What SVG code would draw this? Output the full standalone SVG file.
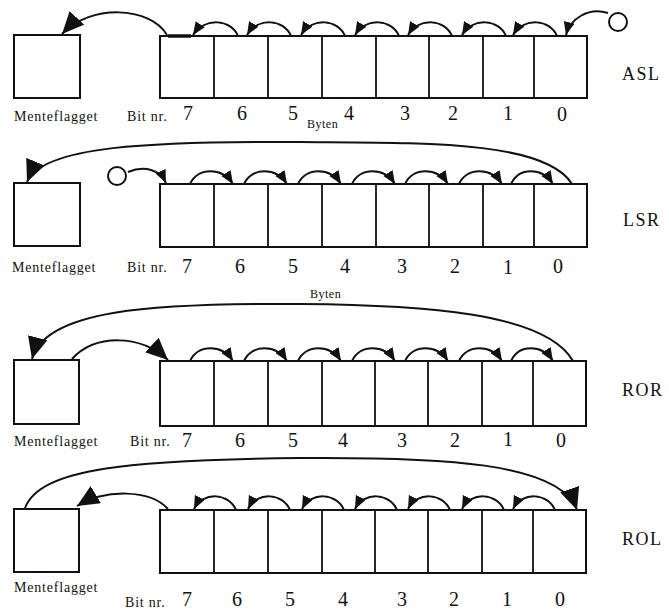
<svg xmlns="http://www.w3.org/2000/svg" width="669" height="609" viewBox="0 0 669 609">
<style>
.box{fill:none;stroke:#111;stroke-width:2}
.div{stroke:#111;stroke-width:1.8}
.c{fill:none;stroke:#111;stroke-width:2}
.cs{fill:none;stroke:#111;stroke-width:2;marker-end:url(#hs)}
.cl{fill:none;stroke:#111;stroke-width:2;marker-end:url(#hl)}
.lbl{font-family:"Liberation Serif",serif;font-size:14px;letter-spacing:0.8px;fill:#111}
.dig{font-family:"Liberation Serif",serif;font-size:20px;fill:#111;text-anchor:middle}
.op{font-family:"Liberation Serif",serif;font-size:18px;letter-spacing:1.5px;fill:#111}
.byt{font-family:"Liberation Serif",serif;font-size:12px;letter-spacing:0.5px;fill:#111}
</style>
<defs>
<marker id="hs" markerUnits="userSpaceOnUse" markerWidth="14" markerHeight="12" refX="13" refY="5.5" orient="auto"><path d="M0,0 L13,5.5 L0,11 z" fill="#111"/></marker>
<marker id="hl" markerUnits="userSpaceOnUse" markerWidth="24" markerHeight="20" refX="22" refY="10" orient="auto"><path d="M0,0 L22,10 L0,20 z" fill="#111"/></marker>
</defs>
<rect width="669" height="609" fill="#fff"/>

<!-- Row 1 ASL -->
<g id="asl-carry"><rect class="box" x="14" y="35" width="66" height="63"/><text class="lbl" x="14" y="121">Menteflagget</text></g>
<g id="asl-byte">
<rect class="box" x="160" y="36" width="427" height="62"/>
<path class="div" d="M214,36V98M268,36V98M322,36V98M376,36V98M429,36V98M483,36V98M534,36V98"/>
<line x1="168" y1="36" x2="191" y2="36" stroke="#111" stroke-width="3.5"/>
<text class="lbl" x="127" y="121">Bit nr.</text>
<text class="dig" x="188" y="120">7</text><text class="dig" x="242" y="120">6</text><text class="dig" x="293" y="120">5</text><text class="dig" x="349" y="120">4</text><text class="dig" x="405" y="120">3</text><text class="dig" x="453" y="120">2</text><text class="dig" x="508" y="120">1</text><text class="dig" x="562" y="121">0</text>
<text class="byt" x="307" y="128">Byten</text>
</g>
<g id="asl-zero"><circle class="c" cx="618" cy="22" r="9"/></g>
<g id="asl-label"><text class="op" x="622" y="80">ASL</text></g>

<!-- Row 2 LSR -->
<g id="lsr-carry"><rect class="box" x="14" y="183" width="66" height="63"/><text class="lbl" x="12" y="272">Menteflagget</text></g>
<g id="lsr-byte">
<rect class="box" x="160" y="184" width="427" height="63"/>
<path class="div" d="M214,184V247M268,184V247M322,184V247M376,184V247M429,184V247M483,184V247M534,184V247"/>
<text class="lbl" x="127" y="272">Bit nr.</text>
<text class="dig" x="187" y="273">7</text><text class="dig" x="240" y="273">6</text><text class="dig" x="293" y="273">5</text><text class="dig" x="345" y="273">4</text><text class="dig" x="402" y="273">3</text><text class="dig" x="455" y="273">2</text><text class="dig" x="508" y="274">1</text><text class="dig" x="558" y="273">0</text>
<text class="byt" x="310" y="298">Byten</text>
</g>
<g id="lsr-zero"><circle class="c" cx="117" cy="176" r="9"/></g>
<g id="lsr-label"><text class="op" x="623" y="226">LSR</text></g>

<!-- Row 3 ROR -->
<g id="ror-carry"><rect class="box" x="14" y="360" width="65" height="64"/><text class="lbl" x="14" y="446">Menteflagget</text></g>
<g id="ror-byte">
<rect class="box" x="160" y="361" width="426" height="65"/>
<path class="div" d="M214,361V426M268,361V426M322,361V426M375,361V426M428,361V426M482,361V426M533,361V426"/>
<text class="lbl" x="130" y="446">Bit nr.</text>
<text class="dig" x="187" y="447">7</text><text class="dig" x="240" y="447">6</text><text class="dig" x="293" y="447">5</text><text class="dig" x="343" y="447">4</text><text class="dig" x="402" y="447">3</text><text class="dig" x="455" y="447">2</text><text class="dig" x="508" y="446">1</text><text class="dig" x="561" y="447">0</text>
</g>
<g id="ror-label"><text class="op" x="622" y="396">ROR</text></g>

<!-- Row 4 ROL -->
<g id="rol-carry"><rect class="box" x="14" y="509" width="65" height="63"/><text class="lbl" x="14" y="592">Menteflagget</text></g>
<g id="rol-byte">
<rect class="box" x="160" y="510" width="426" height="63"/>
<path class="div" d="M214,510V573M268,510V573M322,510V573M375,510V573M428,510V573M482,510V573M533,510V573"/>
<text class="lbl" x="125" y="607">Bit nr.</text>
<text class="dig" x="187" y="606">7</text><text class="dig" x="237" y="606">6</text><text class="dig" x="290" y="606">5</text><text class="dig" x="343" y="606">4</text><text class="dig" x="402" y="606">3</text><text class="dig" x="454" y="606">2</text><text class="dig" x="507" y="606">1</text><text class="dig" x="560" y="606">0</text>
</g>
<g id="rol-label"><text class="op" x="622" y="545">ROL</text></g>

<g id="connectors">
<!-- ASL -->
<path class="cl" d="M167,35 C150,6 90,4 62,34"/>
<path class="cs" d="M608,13 C588,7 570,19 566,35"/>
<path class="cs" d="M238,36 C231,19 205,17 193,35"/>
<path class="cs" d="M291,36 C284,19 258,17 247,35"/>
<path class="cs" d="M345,36 C338,19 312,17 301,35"/>
<path class="cs" d="M399,36 C392,19 366,17 355,35"/>
<path class="cs" d="M452,36 C445,19 419,17 408,35"/>
<path class="cs" d="M506,36 C499,19 473,17 462,35"/>
<path class="cs" d="M557,36 C550,19 524,17 513,35"/>
<!-- LSR -->
<path class="cs" d="M128,172 C145,165 160,170 166,183"/>
<path class="cl" d="M572,184 C545,140 420,143 300,142 C150,141 42,146 27,182"/>
<path class="cs" d="M190,184 C198,167 222,167 233,184"/>
<path class="cs" d="M244,184 C252,167 276,167 287,184"/>
<path class="cs" d="M298,184 C306,167 330,167 341,184"/>
<path class="cs" d="M352,184 C360,167 384,167 395,184"/>
<path class="cs" d="M405,184 C413,167 437,167 448,184"/>
<path class="cs" d="M459,184 C467,167 491,167 502,184"/>
<path class="cs" d="M511,184 C519,167 542,167 553,184"/>
<!-- ROR -->
<path class="cl" d="M72,359 C95,334 140,334 168,360"/>
<path class="cl" d="M573,361 C545,312 420,305 300,304 C150,303 45,310 32,359"/>
<path class="cs" d="M190,361 C198,344 222,344 233,361"/>
<path class="cs" d="M244,361 C252,344 276,344 287,361"/>
<path class="cs" d="M298,361 C306,344 330,344 341,361"/>
<path class="cs" d="M352,361 C360,344 384,344 395,361"/>
<path class="cs" d="M405,361 C413,344 437,344 448,361"/>
<path class="cs" d="M459,361 C467,344 491,344 502,361"/>
<path class="cs" d="M511,361 C519,344 542,344 553,361"/>
<!-- ROL -->
<path class="cl" d="M168,509 C150,489 105,489 77,506"/>
<path class="cl" d="M25,508 C40,468 130,460 300,458 C440,457 560,462 577,510"/>
<path class="cs" d="M236,510 C229,493 203,491 194,509"/>
<path class="cs" d="M290,510 C283,493 257,491 248,509"/>
<path class="cs" d="M344,510 C337,493 311,491 302,509"/>
<path class="cs" d="M397,510 C390,493 364,491 355,509"/>
<path class="cs" d="M450,510 C443,493 417,491 408,509"/>
<path class="cs" d="M504,510 C497,493 471,491 462,509"/>
<path class="cs" d="M555,510 C548,493 522,491 513,509"/>
</g>
</svg>
